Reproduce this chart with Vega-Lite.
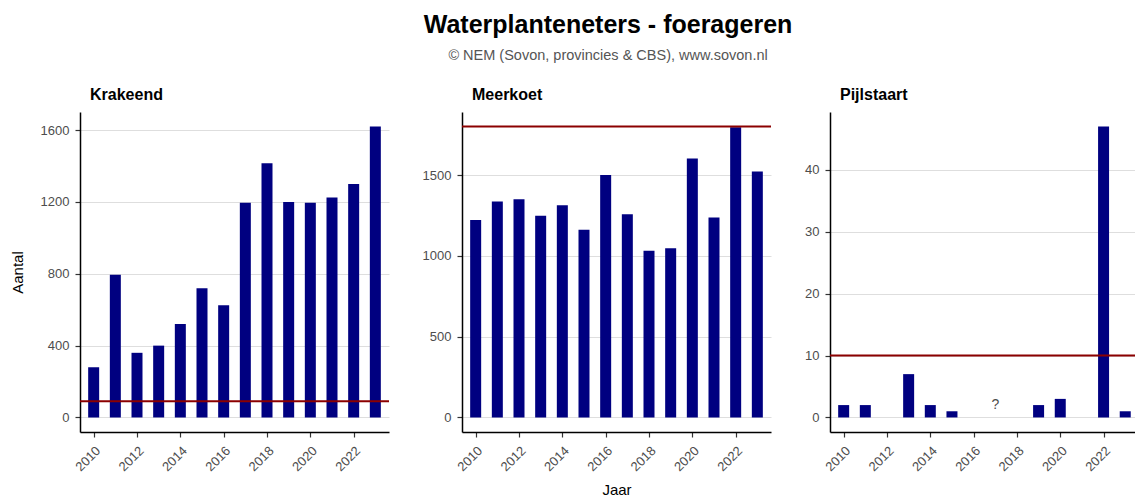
{
  "$schema": "https://vega.github.io/schema/vega-lite/v6.json",
  "padding": {"left": 10, "top": 12, "right": 0, "bottom": 0},
  "background": "white",
  "title": {
    "text": "Waterplanteneters - foerageren",
    "subtitle": "© NEM (Sovon, provincies & CBS), www.sovon.nl",
    "anchor": "middle",
    "frame": "bounds",
    "fontSize": 25,
    "fontWeight": "bold",
    "font": "Liberation Sans",
    "color": "black",
    "subtitleFontSize": 14.5,
    "subtitleFont": "Liberation Sans",
    "subtitleColor": "#555555",
    "subtitlePadding": 11,
    "offset": 25,
    "dx": 35
  },
  "datasets": {
    "krakeend": [
      {"jaar": 2010, "aantal": 280},
      {"jaar": 2011, "aantal": 795},
      {"jaar": 2012, "aantal": 360},
      {"jaar": 2013, "aantal": 400},
      {"jaar": 2014, "aantal": 520},
      {"jaar": 2015, "aantal": 720},
      {"jaar": 2016, "aantal": 625},
      {"jaar": 2017, "aantal": 1195},
      {"jaar": 2018, "aantal": 1415},
      {"jaar": 2019, "aantal": 1200},
      {"jaar": 2020, "aantal": 1195},
      {"jaar": 2021, "aantal": 1225},
      {"jaar": 2022, "aantal": 1300},
      {"jaar": 2023, "aantal": 1620}
    ],
    "meerkoet": [
      {"jaar": 2010, "aantal": 1222},
      {"jaar": 2011, "aantal": 1336},
      {"jaar": 2012, "aantal": 1350},
      {"jaar": 2013, "aantal": 1248},
      {"jaar": 2014, "aantal": 1313},
      {"jaar": 2015, "aantal": 1161},
      {"jaar": 2016, "aantal": 1500},
      {"jaar": 2017, "aantal": 1258},
      {"jaar": 2018, "aantal": 1032},
      {"jaar": 2019, "aantal": 1047},
      {"jaar": 2020, "aantal": 1602},
      {"jaar": 2021, "aantal": 1237},
      {"jaar": 2022, "aantal": 1795},
      {"jaar": 2023, "aantal": 1522}
    ],
    "pijlstaart": [
      {"jaar": 2010, "aantal": 2},
      {"jaar": 2011, "aantal": 2},
      {"jaar": 2013, "aantal": 7},
      {"jaar": 2014, "aantal": 2},
      {"jaar": 2015, "aantal": 1},
      {"jaar": 2019, "aantal": 2},
      {"jaar": 2020, "aantal": 3},
      {"jaar": 2022, "aantal": 47},
      {"jaar": 2023, "aantal": 1}
    ]
  },
  "spacing": 32,
  "hconcat": [
    {
      "width": 309,
      "height": 320,
      "title": {"text": "Krakeend", "anchor": "start", "frame": "group", "dx": 10},
      "layer": [
        {
          "data": {"name": "krakeend"},
          "mark": {"type": "bar", "width": 11, "color": "#000080"},
          "encoding": {
            "x": {"field": "jaar", "type": "quantitative",
                  "scale": {"domain": [2009.6, 2023.4], "nice": false, "zero": false},
                  "axis": {"values": [2010, 2012, 2014, 2016, 2018, 2020, 2022], "format": "d", "title": null}},
            "y": {"field": "aantal", "type": "quantitative",
                  "scale": {"domain": [-81, 1701], "nice": false, "zero": false},
                  "axis": {"values": [0, 400, 800, 1200, 1600], "format": "d", "title": "Aantal", "titlePadding": 15}},
            "y2": {"datum": 0}
          }
        },
        {
          "data": {"values": [{"drempel": 90}]},
          "mark": {"type": "rule", "color": "#8B0000", "strokeWidth": 2},
          "encoding": {"y": {"field": "drempel", "type": "quantitative"}}
        }
      ]
    },
    {
      "width": 309,
      "height": 320,
      "title": {"text": "Meerkoet", "anchor": "start", "frame": "group", "dx": 10},
      "layer": [
        {
          "data": {"name": "meerkoet"},
          "mark": {"type": "bar", "width": 11, "color": "#000080"},
          "encoding": {
            "x": {"field": "jaar", "type": "quantitative",
                  "scale": {"domain": [2009.6, 2023.4], "nice": false, "zero": false},
                  "axis": {"values": [2010, 2012, 2014, 2016, 2018, 2020, 2022], "format": "d", "title": "Jaar", "titlePadding": 9}},
            "y": {"field": "aantal", "type": "quantitative",
                  "scale": {"domain": [-90, 1890], "nice": false, "zero": false},
                  "axis": {"values": [0, 500, 1000, 1500], "format": "d", "title": null}},
            "y2": {"datum": 0}
          }
        },
        {
          "data": {"values": [{"drempel": 1800}]},
          "mark": {"type": "rule", "color": "#8B0000", "strokeWidth": 2},
          "encoding": {"y": {"field": "drempel", "type": "quantitative"}}
        }
      ]
    },
    {
      "width": 305,
      "height": 320,
      "title": {"text": "Pijlstaart", "anchor": "start", "frame": "group", "dx": 10},
      "layer": [
        {
          "data": {"name": "pijlstaart"},
          "mark": {"type": "bar", "width": 11, "color": "#000080"},
          "encoding": {
            "x": {"field": "jaar", "type": "quantitative",
                  "scale": {"domain": [2009.6, 2023.22], "nice": false, "zero": false},
                  "axis": {"values": [2010, 2012, 2014, 2016, 2018, 2020, 2022], "format": "d", "title": null}},
            "y": {"field": "aantal", "type": "quantitative",
                  "scale": {"domain": [-2.35, 49.35], "nice": false, "zero": false},
                  "axis": {"values": [0, 10, 20, 30, 40], "format": "d", "title": null}},
            "y2": {"datum": 0}
          }
        },
        {
          "data": {"values": [{"drempel": 10}]},
          "mark": {"type": "rule", "color": "#8B0000", "strokeWidth": 2},
          "encoding": {"y": {"field": "drempel", "type": "quantitative"}}
        },
        {
          "data": {"values": [{"jaar": 2017, "label": "?"}]},
          "mark": {"type": "text", "fontSize": 14, "color": "#4D4D4D", "font": "Liberation Sans"},
          "encoding": {
            "x": {"field": "jaar", "type": "quantitative"},
            "y": {"datum": 2},
            "text": {"field": "label"}
          }
        }
      ]
    }
  ],
  "config": {
    "view": {"stroke": null},
    "font": "Liberation Sans",
    "axis": {
      "domainColor": "black",
      "domainWidth": 1.5,
      "tickColor": "#333333",
      "tickWidth": 1.2,
      "tickSize": 5,
      "labelColor": "#4D4D4D",
      "labelFontSize": 13,
      "labelFont": "Liberation Sans",
      "titleFont": "Liberation Sans",
      "titleFontSize": 15,
      "titleFontWeight": "normal",
      "titleColor": "black",
      "labelPadding": 7
    },
    "axisX": {"grid": false, "labelAngle": -45},
    "axisY": {"grid": true, "gridColor": "#DEDEDE", "gridWidth": 1, "labelPadding": 6},
    "title": {"fontSize": 16, "fontWeight": "bold", "offset": 9, "color": "black", "font": "Liberation Sans"}
  }
}
